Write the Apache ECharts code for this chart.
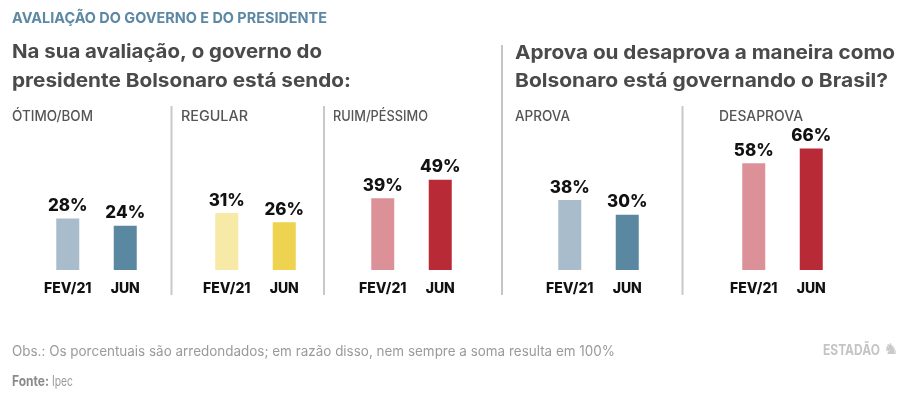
<!DOCTYPE html>
<html>
<head>
<meta charset="utf-8">
<script src="https://cdn.jsdelivr.net/npm/echarts@6/dist/echarts.min.js"></script>
<style>
html,body{margin:0;padding:0;background:#fff;}
#chart{width:911px;height:394px;}
</style>
</head>
<body>
<div id="chart"></div>
<script>
// ---- data ----
const categories = ['FEV/21', 'JUN'];
const panelTitles = ['ÓTIMO/BOM', 'REGULAR', 'RUIM/PÉSSIMO', 'APROVA', 'DESAPROVA'];
const otimoBom = [28, 24];
const regular = [31, 26];
const ruimPessimo = [39, 49];
const aprova = [38, 30];
const desaprova = [58, 66];
const mainTitle = 'AVALIAÇÃO DO GOVERNO E DO PRESIDENTE';
const question1 = ['Na sua avaliação, o governo do', 'presidente Bolsonaro está sendo:'];
const question2 = ['Aprova ou desaprova a maneira como', 'Bolsonaro está governando o Brasil?'];
const obsText = 'Obs.: Os porcentuais são arredondados; em razão disso, nem sempre a soma resulta em 100%';
const sourceLabel = 'Fonte:';
const sourceName = 'Ipec';
const brand = 'ESTADÃO';

// ---- styles ----
const FONT = 'Inter, Roboto, "Noto Sans", sans-serif';
const panelValues = [otimoBom, regular, ruimPessimo, aprova, desaprova];
const panelColors = [
  ['#a9bccb', '#5a88a1'],
  ['#f6eaa6', '#edd34f'],
  ['#dc9198', '#b82a35'],
  ['#a9bccb', '#5a88a1'],
  ['#dc9198', '#b82a35']
];
const gridLefts = [39, 198, 354, 541, 725];
const gridWidth = 115;
const labelX = [12, 181, 333, 515, 719];

const cvs = document.createElement('canvas').getContext('2d');
function fit(text, font, target) {
  cvs.font = font;
  const w = cvs.measureText(text).width;
  return w > 0 ? target / w : 1;
}
function txt(text, x, y, size, weight, color, target, family) {
  const fam = family || FONT;
  const font = weight + ' ' + size + 'px ' + fam;
  const sx = target ? fit(text, font, target) : 1;
  return {
    type: 'text', x: x, y: y, scaleX: sx, silent: true,
    style: {
      text: text, fontFamily: fam, fontSize: size, fontWeight: weight,
      fill: color, textAlign: 'left', textVerticalAlign: 'middle'
    }
  };
}
function vline(x, y1, y2, color, w) {
  return { type: 'line', silent: true, shape: { x1: x, y1: y1, x2: x, y2: y2 },
           style: { stroke: color, lineWidth: w } };
}

const grids = [], xAxes = [], yAxes = [], series = [];
panelValues.forEach((vals, i) => {
  grids.push({ left: gridLefts[i], width: gridWidth, top: 86, bottom: 124, containLabel: false });
  xAxes.push({
    gridIndex: i, type: 'category', data: categories,
    axisLine: { show: false }, axisTick: { show: false },
    axisLabel: { interval: 0, margin: 12, color: '#111', fontFamily: FONT, fontSize: 14, fontWeight: 800 }
  });
  yAxes.push({ gridIndex: i, type: 'value', min: 0, max: 100, show: false, splitLine: { show: false } });
  series.push({
    type: 'bar', xAxisIndex: i, yAxisIndex: i, barWidth: 23,
    data: vals.map((v, j) => ({ value: v, itemStyle: { color: panelColors[i][j] } })),
    label: {
      show: true, position: 'top', distance: 4, formatter: '{c}%',
      color: '#111', fontFamily: FONT, fontSize: 17, fontWeight: 800
    },
    silent: true
  });
});

const graphics = [
  txt(mainTitle, 12, 18.5, 15, 'bold', '#5c88a4', 315),
  txt(question1[0], 12, 52, 19, 'bold', '#4a4a4a', 310),
  txt(question1[1], 12, 81.5, 19, 'bold', '#4a4a4a', 339),
  txt(question2[0], 515, 53, 19, 'bold', '#4a4a4a', 380),
  txt(question2[1], 515, 81, 19, 'bold', '#4a4a4a', 373),
  txt(obsText, 12, 352, 14, 'normal', '#9a9a9a', 603),
  txt(sourceLabel, 12, 381.5, 14, 'bold', '#8a8a8a', 37),
  txt(sourceName, 52, 381.5, 14, 'normal', '#9a9a9a', 21),
  txt(brand, 823, 351, 14, 'bold', '#c4c4c4', 57),
  txt('♞', 883, 350, 15, 'normal', '#c9c9c9', 16, '"DejaVu Sans"'),
  vline(171.5, 106, 295, '#c8c8c8', 2),
  vline(324, 106, 295, '#c8c8c8', 2),
  vline(502, 45, 295, '#b0b0b0', 1.5),
  vline(682.5, 106, 295, '#c8c8c8', 2)
];
const subWidths = [81, 67, 95, 55, 84];
panelTitles.forEach((t, i) => {
  graphics.push(txt(t, labelX[i], 117, 14, '500', '#555555', subWidths[i]));
});

const chart = echarts.init(document.getElementById('chart'), null, { renderer: 'canvas' });
chart.setOption({
  animation: false,
  backgroundColor: '#ffffff',
  grid: grids,
  xAxis: xAxes,
  yAxis: yAxes,
  series: series,
  graphic: { elements: graphics }
});
</script>
</body>
</html>
